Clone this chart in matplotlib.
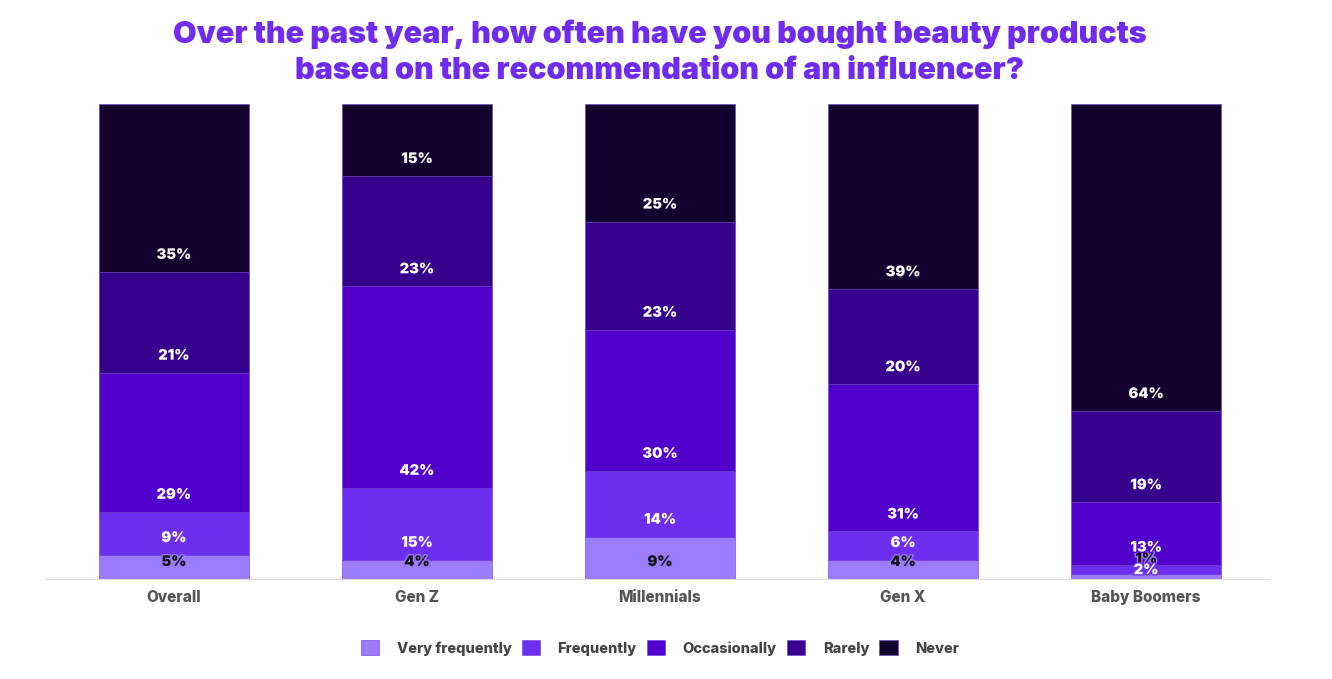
import numpy as np
import matplotlib.pyplot as plt
import matplotlib.patheffects as pe

groups = ['Overall', 'Gen Z', 'Millennials', 'Gen X', 'Baby Boomers']
answers = ['Very frequently', 'Frequently', 'Occasionally', 'Rarely', 'Never']

very_frequently = [5, 4, 9, 4, 1]
frequently = [9, 15, 14, 6, 2]
occasionally = [29, 42, 30, 31, 13]
rarely = [21, 23, 23, 20, 19]
never = [35, 15, 25, 39, 64]

colors = ['#9b7bff', '#6c2ff0', '#5200cc', '#36008d', '#13002e']
label_colors = ['#111111', 'white', 'white', 'white', 'white']

plt.rcParams['font.family'] = ['Inter', 'DejaVu Sans']

data = np.array([very_frequently, frequently, occasionally, rarely, never], dtype=float)
shares = data / data.sum(axis=0)  # bars are drawn as full 100% stacks

fig = plt.figure(figsize=(13.32, 6.79), dpi=100)
ax = fig.add_axes([0.0338, 0.1473, 0.9197, 0.6995])

x = np.arange(len(groups))
bottom = np.zeros(len(groups))
for i, name in enumerate(answers):
    ax.bar(x, shares[i], 0.617, bottom=bottom, color=colors[i], label=name,
           edgecolor='#6a3ad0', linewidth=0.4)
    for j in range(len(groups)):
        off = 17
        if data[i, j] <= 2:
            # tiny slices: squeeze the labels like the original does
            off = 4 if i > 0 else 20
        ax.annotate(f'{int(data[i, j])}%', (x[j], bottom[j]), xytext=(0, off),
                    textcoords='offset pixels', zorder=5 + i,
                    ha='center', va='center', fontsize=10.5, fontweight='black',
                    color=label_colors[i],
                    path_effects=[pe.withStroke(linewidth=2, foreground=colors[i])])
    bottom += shares[i]

ax.set_xlim(-0.53, 4.51)
ax.set_ylim(0, 1)
ax.set_yticks([])
ax.set_xticks(x)
ax.set_xticklabels(groups, fontsize=11, fontweight='heavy', color='#555555')
ax.tick_params(axis='x', length=0, pad=8)
for s in ['top', 'left', 'right']:
    ax.spines[s].set_visible(False)
ax.spines['bottom'].set_color('#dddddd')

fig.suptitle('Over the past year, how often have you bought beauty products\n'
             'based on the recommendation of an influencer?',
             x=0.4955, y=0.972, fontsize=22, fontweight='black', color='#6f2cf0',
             linespacing=1.38)

fig.legend(loc='center', bbox_to_anchor=(0.4955, 0.046), ncol=5, frameon=False,
           handlelength=1.25, handleheight=1.25, columnspacing=0.7,
           handletextpad=1.2, labelcolor='#444444',
           prop={'weight': 'heavy', 'size': 10.5})

plt.savefig('out.png', dpi=100)
